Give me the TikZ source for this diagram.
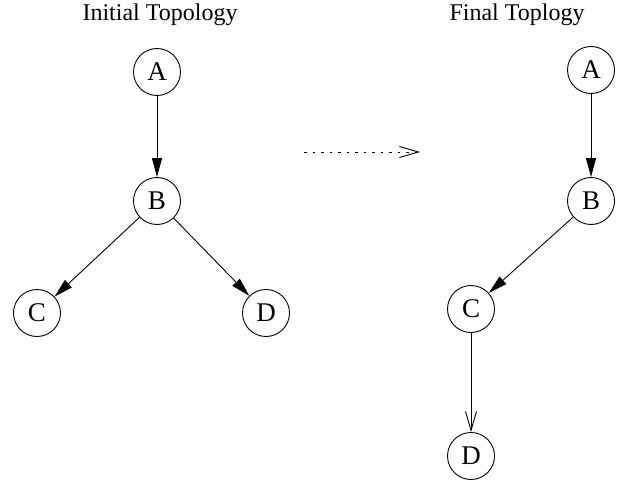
\documentclass[tikz,border=0pt]{standalone}
\usepackage{fontspec}
\setmainfont{Liberation Serif}
\usetikzlibrary{arrows.meta}
\begin{document}
\begin{tikzpicture}[x=1pt,y=-1pt,
  vtx/.style={circle,draw,line width=0.9pt,minimum size=47pt,inner sep=0pt,font=\fontsize{27}{29}\selectfont},
  ttl/.style={anchor=base,font=\fontsize{24}{26}\selectfont},
  solidarr/.style={line width=0.9pt,-{Triangle[length=19pt,width=10pt]}},
  openarr/.style={line width=0.9pt,-{Straight Barb[length=19pt,width=11pt,line width=0.9pt]}}]
\useasboundingbox (0,0) rectangle (623,481);
\node[ttl] (t1) at (160,21) {Initial Topology};
\node[ttl] (t2) at (517,21) {Final Toplogy};
\node[vtx] (la) at (157,72) {A};
\node[vtx] (lb) at (157,201) {B};
\node[vtx] (lc) at (37,313) {C};
\node[vtx] (ld) at (266,313) {D};
\node[vtx] (ra) at (591,70) {A};
\node[vtx] (rb) at (591,201) {B};
\node[vtx] (rc) at (471,309) {C};
\node[vtx] (rd) at (471,456) {D};
\coordinate (ds) at (304,152);
\coordinate (de) at (420,152);
\draw[solidarr] (la) -- (lb);
\draw[solidarr] (lb) -- (lc);
\draw[solidarr] (lb) -- (ld);
\draw[solidarr] (ra) -- (rb);
\draw[solidarr] (rb) -- (rc);
\draw[openarr] (rc) -- (rd);
\draw[openarr,dash pattern=on 2.5pt off 6pt] (ds) -- (de);
\end{tikzpicture}
\end{document}
